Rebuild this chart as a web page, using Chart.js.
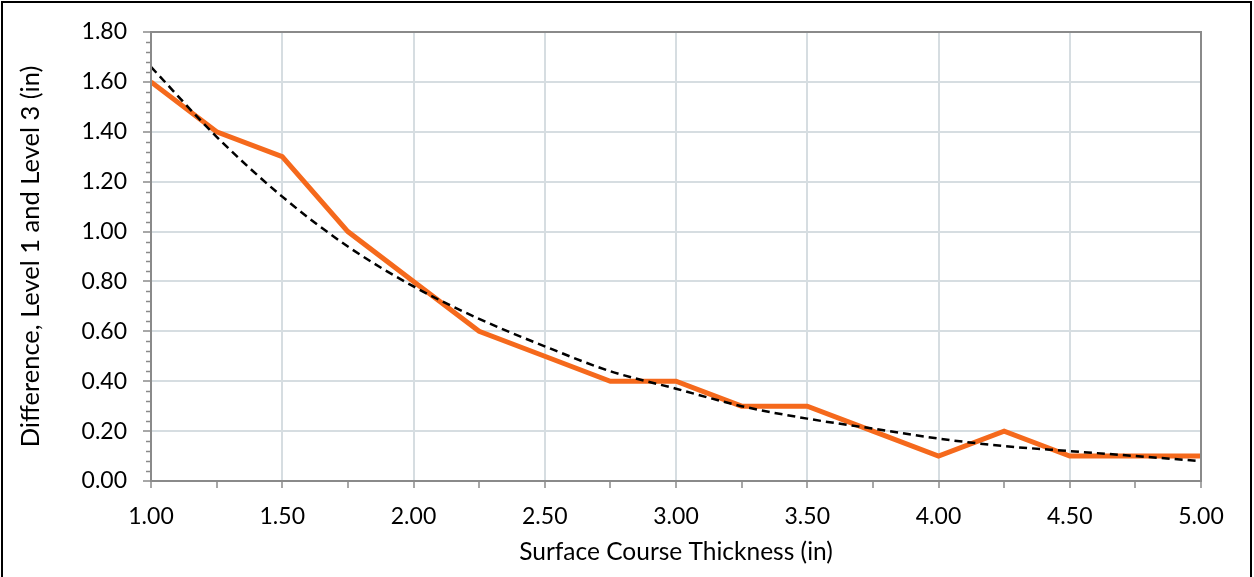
<!DOCTYPE html>
<html>
<head>
<meta charset="utf-8">
<script src="https://cdn.jsdelivr.net/npm/chart.js@4.4.1/dist/chart.umd.min.js"></script>
<style>
  html, body { margin: 0; padding: 0; background: #ffffff; }
  #wrap { width: 1254px; height: 577px; position: relative; }
</style>
</head>
<body>
<div id="wrap"><canvas id="c" width="1254" height="577"></canvas></div>
<script>
// Surface course thickness (in)
const thickness = [1.00, 1.25, 1.50, 1.75, 2.00, 2.25, 2.50, 2.75, 3.00, 3.25, 3.50, 3.75, 4.00, 4.25, 4.50, 4.75, 5.00];
// Difference between Level 1 and Level 3 (in)
const difference = [1.60, 1.40, 1.30, 1.00, 0.80, 0.60, 0.50, 0.40, 0.40, 0.30, 0.30, 0.20, 0.10, 0.20, 0.10, 0.10, 0.10];
// Exponential trend of the difference
const trend = [1.66, 1.38, 1.14, 0.94, 0.78, 0.65, 0.54, 0.44, 0.37, 0.30, 0.25, 0.21, 0.17, 0.14, 0.12, 0.10, 0.08];
// Axis labels
const xTickLabels = ['1.00', '1.50', '2.00', '2.50', '3.00', '3.50', '4.00', '4.50', '5.00'];
const yTickLabels = ['0.00', '0.20', '0.40', '0.60', '0.80', '1.00', '1.20', '1.40', '1.60', '1.80'];

const AXIS = '#8a8a8a';
const GRID = '#d6dde1';
const FONT = 'Lato, "Open Sans", sans-serif';

// Frame, plot outline and minor tick marks on the value axis
const decor = {
  id: 'decor',
  beforeDraw(chart) {
    const ctx = chart.ctx;
    ctx.save();
    ctx.fillStyle = '#ffffff';
    ctx.fillRect(0, 0, chart.width, chart.height);
    ctx.restore();
  },
  afterDraw(chart) {
    const ctx = chart.ctx;
    const a = chart.chartArea;
    const y = chart.scales.y;
    ctx.save();
    // outer frame
    ctx.strokeStyle = '#000000';
    ctx.lineWidth = 2;
    ctx.beginPath();
    ctx.moveTo(2, chart.height + 2);
    ctx.lineTo(2, 2);
    ctx.lineTo(chart.width - 3, 2);
    ctx.lineTo(chart.width - 3, chart.height + 2);
    ctx.stroke();
    // plot outline
    ctx.strokeStyle = AXIS;
    ctx.lineWidth = 2;
    ctx.strokeRect(a.left, a.top, a.right - a.left, a.bottom - a.top);
    // minor ticks every 0.04
    ctx.lineWidth = 1.5;
    ctx.beginPath();
    for (let i = 0; i <= 45; i++) {
      if (i % 5 === 0) continue;
      const py = Math.round(y.getPixelForValue(i * 0.04)) + 0.5;
      ctx.moveTo(a.left - 5, py);
      ctx.lineTo(a.left, py);
    }
    ctx.stroke();
    ctx.restore();
  }
};

new Chart(document.getElementById('c'), {
  type: 'line',
  data: {
    datasets: [
      {
        label: 'Difference',
        data: thickness.map((x, i) => ({ x: x, y: difference[i] })),
        borderColor: '#f5691c',
        borderWidth: 5,
        pointRadius: 0,
        tension: 0,
        order: 1
      },
      {
        label: 'Trend',
        data: thickness.map((x, i) => ({ x: x, y: trend[i] })),
        borderColor: '#000000',
        borderWidth: 2.5,
        borderDash: [8, 5],
        pointRadius: 0,
        cubicInterpolationMode: 'monotone',
        order: 0
      }
    ]
  },
  options: {
    responsive: false,
    animation: false,
    devicePixelRatio: 1,
    layout: { padding: { left: 0, top: 32, right: 53, bottom: 0 } },
    plugins: { legend: { display: false }, tooltip: { enabled: false } },
    scales: {
      x: {
        type: 'linear',
        min: 1, max: 5,
        afterFit(s) { s.height = 96; },
        border: { color: AXIS, width: 2 },
        grid: {
          color: c => (Math.abs(c.tick.value * 2 - Math.round(c.tick.value * 2)) < 1e-6 ? GRID : 'rgba(0,0,0,0)'),
          lineWidth: 2,
          tickColor: AXIS,
          tickLength: 7,
          tickWidth: 1.5
        },
        ticks: {
          stepSize: 0.25,
          autoSkip: false,
          maxRotation: 0,
          padding: 15,
          color: '#000000',
          font: { family: FONT, size: 23 },
          callback: v => {
            const lbl = v.toFixed(2);
            return xTickLabels.includes(lbl) ? lbl : '';
          }
        },
        title: {
          display: true,
          text: 'Surface Course Thickness (in)',
          color: '#000000',
          font: { family: FONT, size: 24.5 },
          padding: { top: 0, bottom: 10 }
        }
      },
      y: {
        type: 'linear',
        min: 0, max: 1.8,
        afterFit(s) { s.width = 151; },
        border: { color: AXIS, width: 2 },
        grid: {
          color: GRID,
          lineWidth: 2,
          tickColor: AXIS,
          tickLength: 8,
          tickWidth: 1.5
        },
        ticks: {
          stepSize: 0.2,
          padding: 16,
          color: '#000000',
          font: { family: FONT, size: 23 },
          callback: (v, i) => yTickLabels[i]
        },
        title: {
          display: true,
          text: 'Difference, Level 1 and Level 3 (in)',
          color: '#000000',
          font: { family: FONT, size: 25.5 },
          padding: { top: 15, bottom: 0 }
        }
      }
    }
  },
  plugins: [decor]
});
</script>
</body>
</html>
